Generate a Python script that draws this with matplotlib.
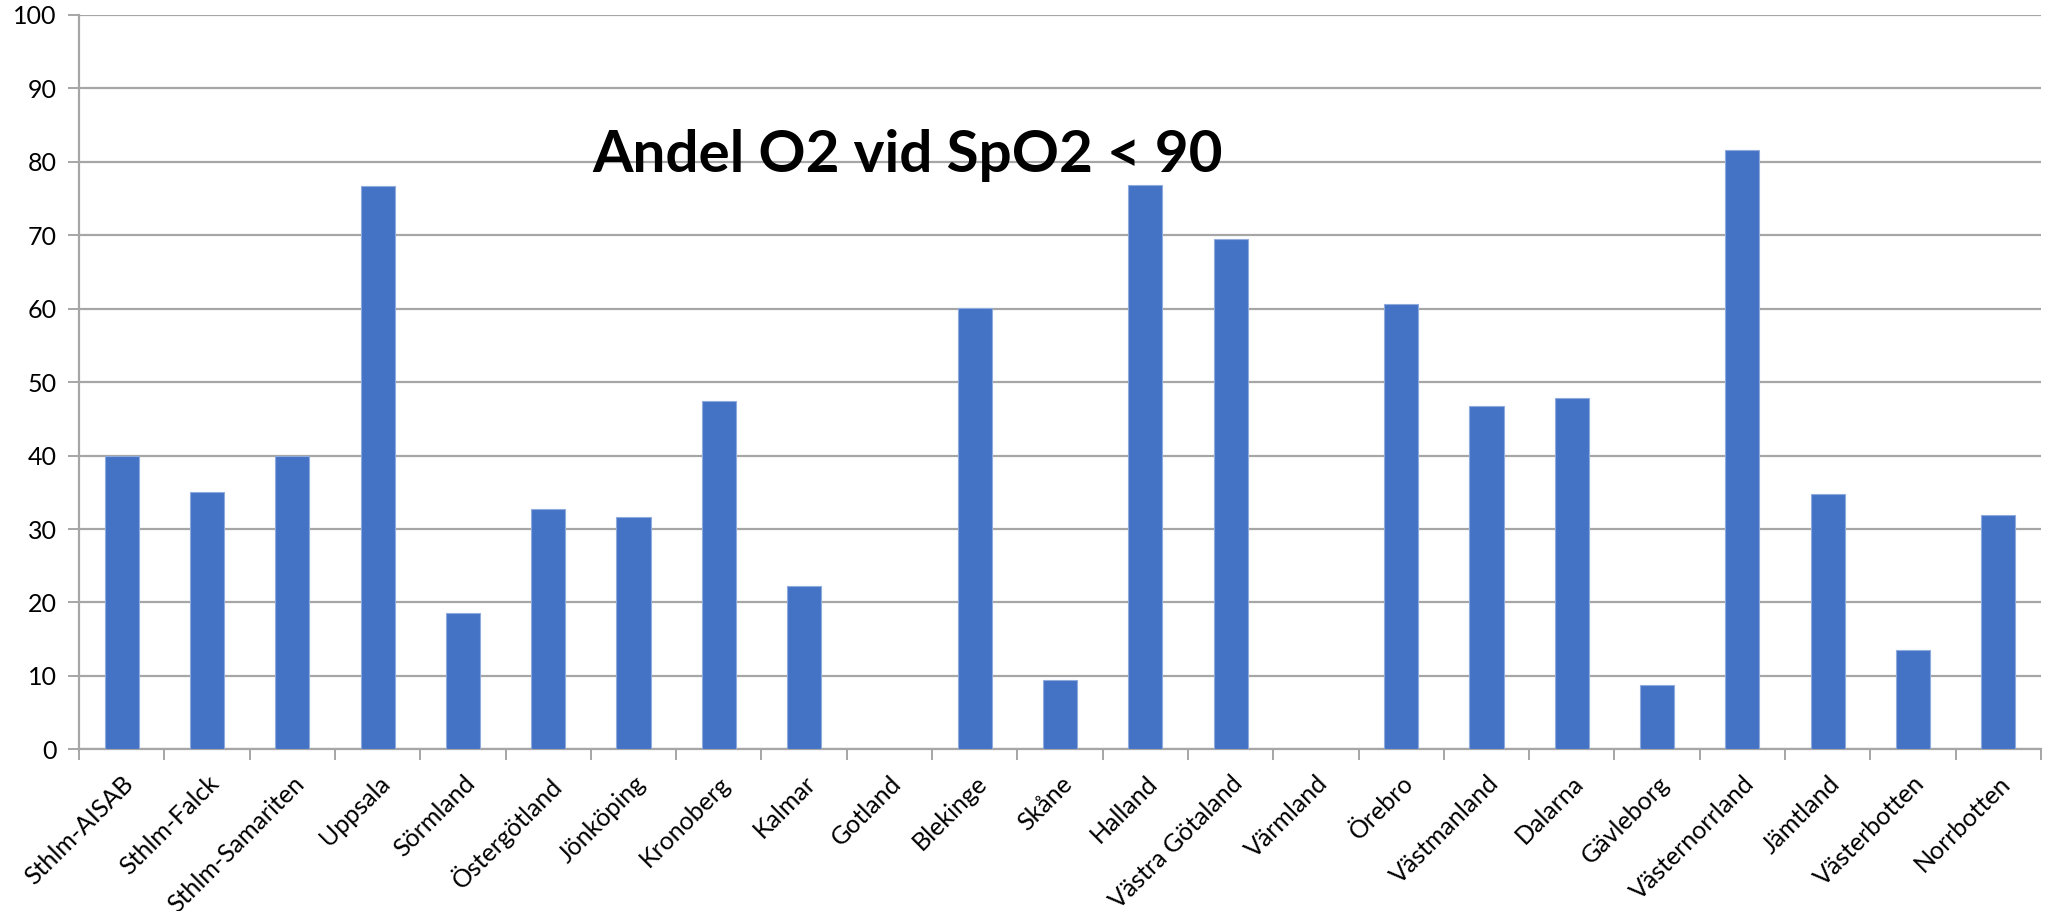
import matplotlib
matplotlib.use("Agg")
import matplotlib.pyplot as plt
import numpy as np

# Data
regions = ["Sthlm-AISAB", "Sthlm-Falck", "Sthlm-Samariten", "Uppsala", "Sörmland",
           "Östergötland", "Jönköping", "Kronoberg", "Kalmar", "Gotland", "Blekinge",
           "Skåne", "Halland", "Västra Götaland", "Värmland", "Örebro", "Västmanland",
           "Dalarna", "Gävleborg", "Västernorrland", "Jämtland", "Västerbotten", "Norrbotten"]
share_o2 = [40.0, 35.0, 39.9, 76.7, 18.5, 32.7, 31.7, 47.4, 22.3, 0.0, 60.1,
            9.5, 76.9, 69.5, 0.0, 60.6, 46.7, 47.8, 8.7, 81.6, 34.8, 13.5, 31.9]
y_ticks = list(range(0, 101, 10))
title = "Andel O2 vid SpO2 < 90"

plt.rcParams["font.family"] = ["Lato", "DejaVu Sans"]

fig = plt.figure(figsize=(20.5, 9.11), dpi=100)
ax = fig.add_axes([79 / 2050, 1 - 749.3 / 911, (2041 - 79) / 2050, (749.3 - 15) / 911])

x = np.arange(len(regions))
ax.bar(x, share_o2, width=0.4, color="#4472C4", edgecolor="#8FAADC", linewidth=0.8, zorder=3)

grid_col = "#a6a6a6"
ax.set_ylim(0, 100)
ax.set_xlim(-0.5, len(regions) - 0.5)
ax.set_yticks(y_ticks)
ax.set_yticklabels([str(t) for t in y_ticks], fontsize=18)
ax.yaxis.grid(True, color=grid_col, linewidth=1.6, zorder=0)
ax.tick_params(axis="y", length=8, width=1.4, color=grid_col, pad=8)

# category labels at centres, tick marks at category boundaries
ax.set_xticks(x)
ax.set_xticklabels(regions, fontsize=18, rotation=45, ha="right", va="top",
                   rotation_mode="anchor")
ax.tick_params(axis="x", which="major", length=0, pad=16)
ax.set_xticks(np.arange(-0.5, len(regions), 1.0), minor=True)
ax.tick_params(axis="x", which="minor", length=8, width=1.4, color=grid_col)

for side in ["top", "right"]:
    ax.spines[side].set_visible(False)
for side in ["left", "bottom"]:
    ax.spines[side].set_color(grid_col)
    ax.spines[side].set_linewidth(1.6)

fig.text(908 / 2050, 1 - 172 / 911, title, fontsize=42, fontweight="bold",
         ha="center", va="baseline")

fig.savefig("out.png", dpi=100, facecolor="white")
